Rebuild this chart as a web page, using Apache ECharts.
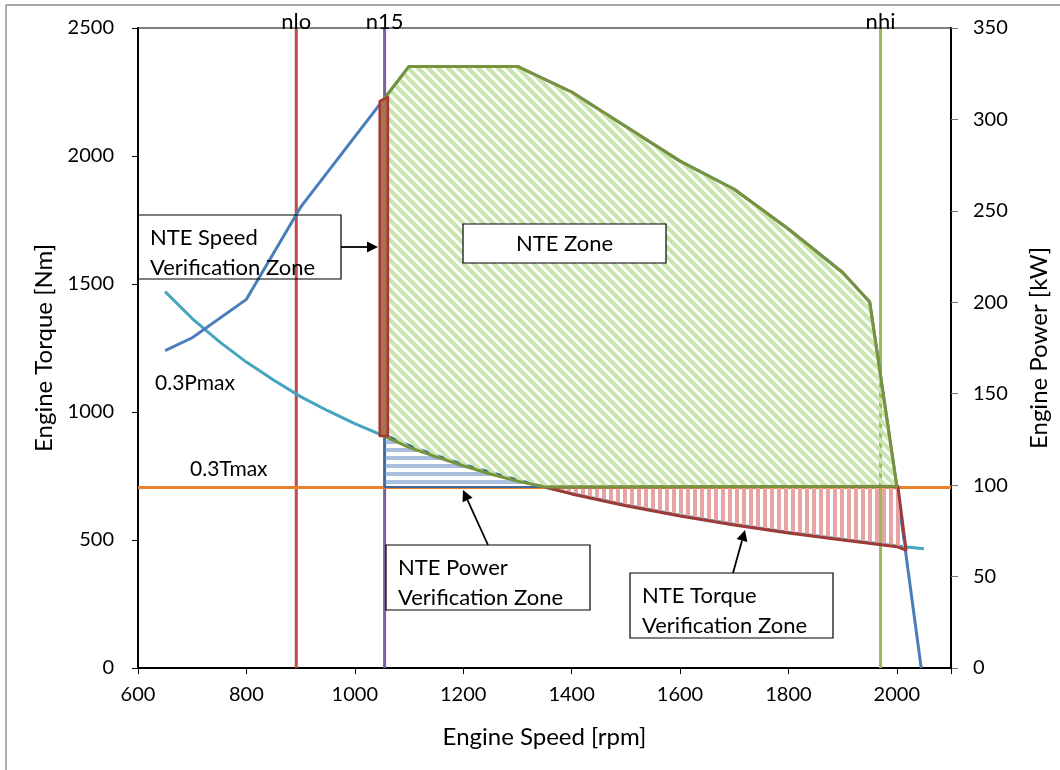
<!DOCTYPE html>
<html>
<head>
<meta charset="utf-8">
<title>Engine Speed / Torque – NTE Zones</title>
<script src="https://cdn.jsdelivr.net/npm/echarts@6/dist/echarts.min.js"></script>
<style>
  html, body { margin: 0; padding: 0; background: #fff; }
  #chart { width: 1060px; height: 770px; }
</style>
</head>
<body>
<div id="chart"></div>
<script>
// ---- data: engine speed [rpm] vs torque [Nm] ----
const fullLoadTorque = [
  [650, 1240], [700, 1290], [800, 1440], [900, 1800], [1100, 2350], [1300, 2350],
  [1400, 2250], [1500, 2115], [1600, 1980], [1700, 1870], [1800, 1715], [1900, 1545],
  [1950, 1430], [2000, 710], [2045, 0]
];
// torque at 30 % of rated power
const powerCurve30 = [
  [650, 1470], [700, 1365], [750, 1275], [800, 1195], [850, 1125], [900, 1060],
  [950, 1005], [1000, 955], [1050, 910], [1100, 870], [1150, 830], [1200, 795],
  [1250, 765], [1300, 735], [1350, 707], [1400, 682], [1500, 637], [1600, 597],
  [1700, 562], [1800, 530], [1900, 503], [2000, 477], [2050, 466]
];
const torque30 = 705;                  // 0.3 Tmax
const speedMarks = [892, 1055, 1970];  // nlo, n15, nhi
const speedMarkNames = ['nlo', 'n15', 'nhi'];

const nteZone = [
  [1055, 905], [1055, 2225], [1100, 2350], [1300, 2350], [1400, 2250], [1500, 2115],
  [1600, 1980], [1700, 1870], [1800, 1715], [1900, 1545], [1950, 1430], [2000, 710],
  [1350, 707], [1300, 730], [1250, 758], [1200, 790], [1150, 825], [1100, 862]
];
const speedZone = [[1046, 906], [1046, 2214], [1061, 2230], [1061, 906]];
const powerZone = [
  [1055, 912], [1100, 870], [1150, 830], [1200, 795], [1250, 765], [1300, 735],
  [1350, 707], [1055, 707]
];
const torqueZone = [
  [1350, 707], [2002, 710], [2017, 461], [2000, 474], [1900, 500], [1800, 527],
  [1700, 559], [1600, 594], [1500, 634], [1400, 680]
];

const torqueTicks = { min: 0, max: 2500, step: 500 };
const powerTicks = { min: 0, max: 350, step: 50 };
const speedTicks = { min: 600, max: 2100, step: 200, lastLabel: 2000 };

// ---- hatch patterns ----
function makePattern(w, h, draw) {
  const c = document.createElement('canvas');
  c.width = w; c.height = h;
  draw(c.getContext('2d'));
  return { image: c, repeat: 'repeat' };
}
const greenHatch = makePattern(10, 10, g => {
  g.strokeStyle = '#c8e5ad';
  g.lineWidth = 4.2;
  for (let k = -1; k <= 1; k++) {
    g.beginPath();
    g.moveTo(k * 10 - 2, -2);
    g.lineTo(k * 10 + 12, 12);
    g.stroke();
  }
});
const redHatch = makePattern(7, 4, g => {
  g.fillStyle = '#e6a4a4';
  g.fillRect(0, 0, 4, 4);
});
const blueHatch = makePattern(4, 8, g => {
  g.fillStyle = '#a8bfe0';
  g.fillRect(0, 0, 4, 4);
});

const FONT = 'Lato, "Open Sans", sans-serif';

function zone(name, points, fill, stroke, width) {
  return {
    name, type: 'custom', coordinateSystem: 'cartesian2d', silent: true, z: 5,
    data: [points[0]],
    renderItem: (params, api) => ({
      type: 'polygon',
      shape: { points: points.map(p => api.coord(p)) },
      style: { fill, stroke, lineWidth: width, lineJoin: 'round' }
    })
  };
}

function lineSeries(name, data, color, width) {
  return {
    name, type: 'line', data, symbol: 'none', smooth: false, z: 2,
    lineStyle: { color, width }, silent: true
  };
}

const verticalColors = ['#be4b48', '#7d5fa0', '#9bbb59'];

const chart = echarts.init(document.getElementById('chart'), null, { renderer: 'canvas' });

const series = [];
speedMarks.forEach((n, i) => {
  series.push(lineSeries(speedMarkNames[i], [[n, torqueTicks.min], [n, torqueTicks.max]], verticalColors[i], 3));
});
series.push(lineSeries('0.3Tmax', [[speedTicks.min, torque30], [speedTicks.max, torque30]], '#e8802f', 3));
series.push(lineSeries('0.3Pmax', powerCurve30, '#45a5c0', 3));
series.push(lineSeries('Full load torque', fullLoadTorque, '#4a7ebb', 3));
series.push(zone('NTE Power Verification Zone', powerZone, blueHatch, '#3f679c', 2.2));
series.push(zone('NTE Torque Verification Zone', torqueZone, redHatch, '#9c3b38', 3));
series.push(zone('NTE Zone', nteZone, greenHatch, '#77933c', 3));
series.push(zone('NTE Speed Verification Zone', speedZone, '#a8734e', '#a33a36', 2.6));
// speed marker captions at the top of the plot
series.push({
  type: 'custom', coordinateSystem: 'cartesian2d', silent: true, z: 6,
  data: speedMarks.map(n => [n, torqueTicks.max]),
  renderItem: (params, api) => {
    const p = api.coord([api.value(0), api.value(1)]);
    return {
      type: 'text', x: p[0], y: p[1] - 6,
      style: {
        text: speedMarkNames[params.dataIndex], fill: '#000',
        font: '22px ' + FONT, align: 'center', verticalAlign: 'middle'
      }
    };
  }
});

// annotation boxes and arrows (pixel layout)
const TOP = 100;
const BOX_FONT = '22px ' + FONT;
function box(left, top, w, h, lines, fillBox, center) {
  const items = [{
    type: 'rect', z: TOP, silent: true, shape: { x: left, y: top, width: w, height: h },
    style: { fill: fillBox ? '#fff' : 'none', stroke: '#000', lineWidth: 1.2 }
  }];
  lines.forEach((t, i) => {
    items.push({
      type: 'text', z: TOP + 1, silent: true,
      x: center ? left + w / 2 : left + 12,
      y: lines.length === 1 ? top + h / 2 : top + 23 + i * 30,
      style: {
        text: t, fill: '#000', font: BOX_FONT,
        align: center ? 'center' : 'left', verticalAlign: 'middle'
      }
    });
  });
  return items;
}
function arrow(x1, y1, x2, y2) {
  const a = Math.atan2(y2 - y1, x2 - x1), L = 11, W = 5.5;
  const bx = x2 - L * Math.cos(a), by = y2 - L * Math.sin(a);
  return [
    { type: 'line', z: TOP, silent: true, shape: { x1, y1, x2: bx, y2: by }, style: { stroke: '#000', lineWidth: 1.8 } },
    {
      type: 'polygon', z: TOP, silent: true,
      shape: { points: [[x2, y2], [bx + W * Math.sin(a), by - W * Math.cos(a)], [bx - W * Math.sin(a), by + W * Math.cos(a)]] },
      style: { fill: '#000' }
    }
  ];
}

const graphic = [
  { type: 'line', z: TOP, shape: { x1: 6, y1: 5, x2: 1060, y2: 5 }, style: { stroke: '#8a8a8a', lineWidth: 1.4 }, silent: true },
  { type: 'line', z: TOP, shape: { x1: 6, y1: 5, x2: 6, y2: 770 }, style: { stroke: '#8a8a8a', lineWidth: 1.4 }, silent: true },
  ...box(138, 215, 203, 64, ['NTE Speed', 'Verification Zone'], false, false),
  ...arrow(341, 247, 378, 247),
  ...box(463, 224, 203, 39, ['NTE Zone'], true, true),
  ...box(386, 545, 204, 65, ['NTE Power', 'Verification Zone'], true, false),
  ...arrow(488, 545, 463, 490),
  ...box(630, 573, 203, 65, ['NTE Torque', 'Verification Zone'], true, false),
  ...arrow(733, 573, 745, 530),
  { type: 'text', z: TOP, x: 155, y: 383, silent: true, style: { text: '0.3Pmax', fill: '#000', font: '21px ' + FONT, verticalAlign: 'middle' } },
  { type: 'text', z: TOP, x: 190, y: 469, silent: true, style: { text: '0.3Tmax', fill: '#000', font: '21px ' + FONT, verticalAlign: 'middle' } }
];

const axisText = { color: '#000', fontSize: 20, fontFamily: FONT };
const nameText = { color: '#000', fontSize: 24, fontFamily: FONT };
const plain = v => String(v);

chart.setOption({
  animation: false,
  backgroundColor: '#fff',
  grid: { left: 138, right: 109, top: 28, bottom: 102, show: true, borderColor: '#000', borderWidth: 1.2, backgroundColor: 'transparent' },
  xAxis: {
    type: 'value', min: speedTicks.min, max: speedTicks.max, interval: speedTicks.step,
    axisLine: { show: true, onZero: false, lineStyle: { color: '#000', width: 2 } },
    axisTick: { show: true, length: 6, lineStyle: { color: '#000', width: 1 } },
    axisLabel: Object.assign({ margin: 17, formatter: v => (v > speedTicks.lastLabel ? '' : String(v)) }, axisText),
    splitLine: { show: false },
    name: 'Engine Speed [rpm]', nameLocation: 'middle', nameGap: 57, nameTextStyle: nameText
  },
  yAxis: [{
    type: 'value', min: torqueTicks.min, max: torqueTicks.max, interval: torqueTicks.step,
    axisLine: { show: true, onZero: false, lineStyle: { color: '#000', width: 2 } },
    axisTick: { show: true, length: 6, lineStyle: { color: '#000', width: 1 } },
    axisLabel: Object.assign({ margin: 24, formatter: plain }, axisText),
    splitLine: { show: false },
    name: 'Engine Torque [Nm]', nameLocation: 'middle', nameGap: 80, nameTextStyle: nameText
  }, {
    type: 'value', position: 'right', min: powerTicks.min, max: powerTicks.max, interval: powerTicks.step,
    axisLine: { show: true, onZero: false, lineStyle: { color: '#000', width: 2 } },
    axisTick: { show: true, length: 7, lineStyle: { color: '#777', width: 1 } },
    axisLabel: Object.assign({ margin: 22, formatter: plain }, axisText),
    splitLine: { show: false },
    name: 'Engine Power [kW]', nameLocation: 'middle', nameGap: 76, nameRotate: 90, nameTextStyle: nameText
  }],
  series,
  graphic
});
</script>
</body>
</html>
